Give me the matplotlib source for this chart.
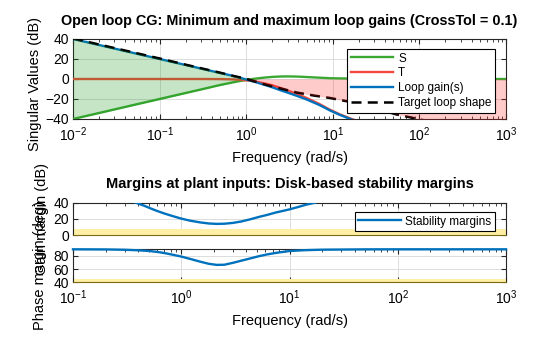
import numpy as np
import matplotlib
matplotlib.use("Agg")
import matplotlib.pyplot as plt
from matplotlib.ticker import NullFormatter

plt.rcParams['font.family'] = ['Liberation Sans', 'DejaVu Sans']
plt.rcParams['mathtext.fontset'] = 'custom'
plt.rcParams['mathtext.rm'] = 'Liberation Sans'
plt.rcParams['mathtext.it'] = 'Liberation Sans:italic'
plt.rcParams['mathtext.bf'] = 'Liberation Sans:bold'

# ---------------- data ----------------
# Loop gain (blue)
loop_f = [0.01, 0.02, 0.05, 0.1, 0.2, 0.5, 0.65, 0.8, 1.0, 1.25, 1.58, 2.0, 2.5, 3.1, 3.83,
          5.0, 7.0, 9.3, 12.0, 16.5, 20.0]
loop_db = [40, 34, 26, 20, 14, 6, 3.8, 1.8, -0.5, -2.8, -5.5, -8.3, -11.3, -14, -16.8,
           -20.5, -26, -31.5, -35.8, -40.5, -43]
# Target loop shape (dashed)
tgt_f = [0.01, 0.02, 0.05, 0.1, 0.2, 0.5, 0.65, 1.0, 1.58, 2.5, 3.83, 6.0, 9.3, 16.0,
         30.0, 54.6, 85.0, 200.0, 1000.0]
tgt_db = [40.5, 34.5, 26.5, 20.5, 14.3, 6.3, 3.8, 0.2, -5.0, -9.5, -13.5, -16.5, -19, -23,
          -29, -35.5, -39, -46, -60]
# S (green)
s_f = [0.01, 0.02, 0.05, 0.1, 0.2, 0.3, 0.5, 0.65, 0.8, 1.0, 1.25, 1.58, 2.0, 2.5, 3.0, 4.0,
       6.0, 9.3, 14.0, 20.0, 50.0, 100.0, 1000.0]
s_db = [-40, -34, -26, -20, -14, -10.5, -6, -4, -2.4, -1, 0.3, 1.3, 2.1, 2.5, 2.6, 2.4,
        1.6, 0.8, 0.5, 0.3, 0.1, 0, 0]
# T (red)
t_f = [0.01, 0.1, 0.3, 0.5, 0.7, 0.85, 1.0, 1.25, 1.58, 2.0, 2.5, 3.0, 3.83, 5.0, 7.0, 9.3,
       12.0, 16.5, 20.0]
t_db = [0, 0, 0, -0.1, -0.4, -0.8, -1.3, -2.4, -4.2, -6.3, -9, -11.5, -14.8, -19, -25,
        -30.8, -35.3, -40, -42.5]

# Stability margins
gm_f = [0.1, 0.2, 0.3, 0.38, 0.45, 0.51, 0.6, 0.7, 0.85, 1.0, 1.2, 1.5, 1.8, 2.12, 2.5,
        3.0, 3.6, 4.3, 5.2, 6.2, 7.5, 10.0, 12.0, 14.0, 17.2, 20.0]
gm_db = [60, 52, 45, 40, 36.5, 33.5, 29.8, 26.7, 23.2, 20.5, 18, 15.8, 14.5, 14, 14.2,
         15.2, 17, 19.5, 22.5, 25, 28, 31.8, 34.7, 37.3, 40, 42.5]
pm_f = [0.1, 0.2, 0.3, 0.4, 0.51, 0.6, 0.7, 0.85, 1.0, 1.25, 1.5, 1.8, 2.12, 2.5, 3.0,
        3.6, 4.3, 5.2, 6.2, 7.5, 10.0, 14.0, 20.0, 50.0, 100.0, 1000.0]
pm_deg = [90, 89.8, 89.3, 88.5, 87.4, 86, 84.3, 81.5, 79, 74.8, 71.2, 68, 66.4, 66.6, 69.5,
          72.8, 76, 79.5, 82.2, 84.6, 87.4, 88.7, 89.4, 89.9, 90, 90]
gm_goal = 7.6
pm_goal = 45

title1 = "Open loop CG: Minimum and maximum loop gains (CrossTol = 0.1)"
title2 = "Margins at plant inputs: Disk-based stability margins"

# ---------------- figure ----------------
W, H = 560, 337
fig = plt.figure(figsize=(W/100, H/100), dpi=100)

def rect(x0, y0, x1, y1):
    return [x0/W, 1 - y1/H, (x1-x0)/W, (y1-y0)/H]

C_S = '#3AA833'
C_T = '#F5473B'
C_L = '#0072BD'
GRID = '#DCDCDC'
FS_TICK = 10
FS_LAB = 10.5

def style(ax):
    ax.tick_params(which='both', direction='in', top=True, right=True, labelsize=FS_TICK,
                   color='#262626')
    ax.tick_params(axis='x', which='both', pad=4.5)
    ax.tick_params(axis='y', which='both', pad=3)
    ax.tick_params(which='major', length=3.5)
    ax.tick_params(which='minor', length=2)
    for s in ax.spines.values():
        s.set_color('#262626')
        s.set_linewidth(0.8)
    ax.grid(True, which='major', color=GRID, linewidth=0.7)
    ax.set_axisbelow(True)

leg_kw = dict(fontsize=8.5, frameon=True, fancybox=False, edgecolor='black', framealpha=1,
              handlelength=3.6, handletextpad=0.4, borderpad=0.3, borderaxespad=0)

# ---- top axes ----
ax = fig.add_axes(rect(73, 39, 506, 119))
ax.set_xscale('log')
ax.set_xlim(1e-2, 1e3)
ax.set_ylim(-40, 40)
ax.set_yticks([-40, -20, 0, 20, 40])
style(ax)

ax.plot(s_f, s_db, color=C_S, lw=1.7, label='S', zorder=3)
ax.plot(t_f, t_db, color=C_T, lw=1.7, label='T', zorder=3)
ax.plot(loop_f, loop_db, color=C_L, lw=1.7, label='Loop gain(s)', zorder=4)
ax.plot(tgt_f, tgt_db, color='black', lw=1.8, ls=(0, (4, 2.5)), label='Target loop shape', zorder=4)

tf = np.array(tgt_f)
td = np.array(tgt_db)
lo = tf <= 1.0
ax.fill_between(tf[lo], -td[lo], td[lo], color='#1E9A1E', alpha=0.25, lw=0, zorder=5)
hi = tf >= 1.0
ax.fill_between(tf[hi], td[hi], 0, color='#FF1A1A', alpha=0.23, lw=0, zorder=5)

ax.set_ylabel('Singular Values (dB)', fontsize=FS_LAB)
ax.set_xlabel('Frequency (rad/s)', fontsize=FS_LAB, labelpad=5)
ax.set_title(title1, fontsize=10.4, fontweight='bold', pad=10)
leg = ax.legend(loc='upper right', bbox_to_anchor=(495/W, 1 - 49/H), bbox_transform=fig.transFigure,
                labelspacing=0.25, **leg_kw)
leg.get_frame().set_linewidth(0.8)
leg.set_zorder(10)

# ---- gain margin axes ----
ax1 = fig.add_axes(rect(73, 202.7, 506, 235.3))
ax1.set_xscale('log')
ax1.set_xlim(1e-1, 1e3)
ax1.set_ylim(0, 40)
ax1.set_yticks([0, 20, 40])
style(ax1)
ax1.set_xticklabels([])
ax1.xaxis.set_minor_formatter(NullFormatter())
ax1.axhspan(0, gm_goal, color='#FFEFA6', lw=0, zorder=1.5)
ax1.plot(gm_f, gm_db, color=C_L, lw=1.7, label='Stability margins', zorder=3)
ax1.spines['bottom'].set_color('#7A6A10')
ax1.set_ylabel('Gain margin (dB)', fontsize=FS_LAB)
ax1.set_title(title2, fontsize=10.5, fontweight='bold', pad=10.5)
leg2 = ax1.legend(loc='upper right', bbox_to_anchor=(495/W, 1 - 212/H), bbox_transform=fig.transFigure,
                  **leg_kw)
leg2.get_frame().set_linewidth(0.8)

# ---- phase margin axes ----
ax2 = fig.add_axes(rect(73, 249.3, 506, 282.3))
ax2.set_xscale('log')
ax2.set_xlim(1e-1, 1e3)
ax2.set_ylim(40, 90)
ax2.set_yticks([40, 60, 80])
style(ax2)
ax2.axhspan(40, pm_goal, color='#FFEFA6', lw=0, zorder=1.5)
ax2.plot(pm_f, pm_deg, color=C_L, lw=1.7, zorder=3, clip_on=False)
ax2.spines['bottom'].set_color('#7A6A10')
ax2.set_ylabel('Phase margin (deg)', fontsize=FS_LAB)
ax2.set_xlabel('Frequency (rad/s)', fontsize=FS_LAB, labelpad=5)

# y label positions as in the reference (overlapping margin labels included)
ax.yaxis.set_label_coords(-0.071, 0.44)
ax1.yaxis.set_label_coords(-0.055, 0.5)
ax2.yaxis.set_label_coords(-0.06, 0.5)

fig.savefig('out.png', dpi=100)
